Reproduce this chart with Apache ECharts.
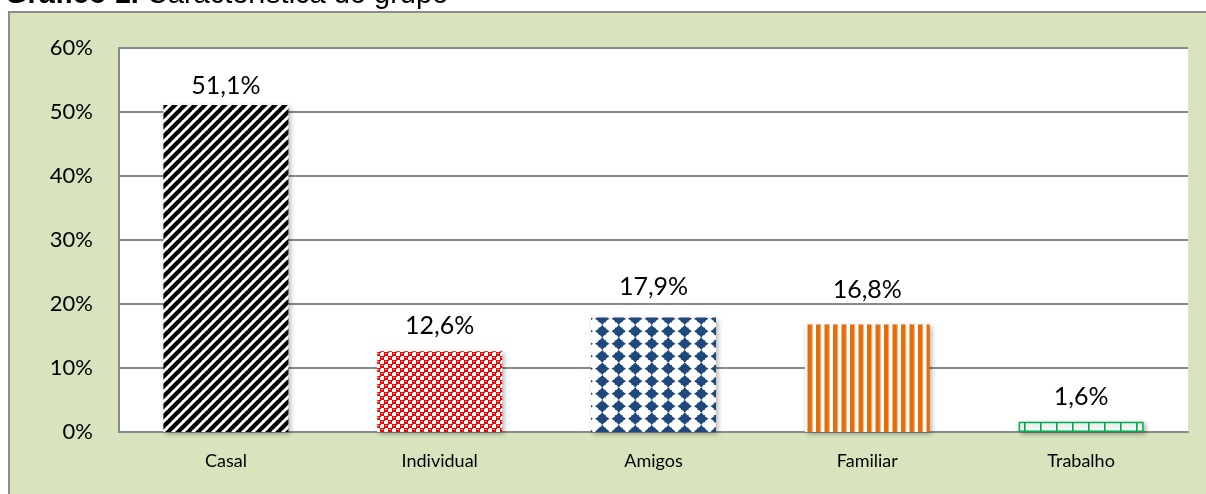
<!DOCTYPE html>
<html>
<head>
<meta charset="utf-8">
<script src="https://cdn.jsdelivr.net/npm/echarts@6/dist/echarts.min.js"></script>
<style>
  html, body { margin:0; padding:0; background:#ffffff; }
  #frame { position:absolute; left:8px; top:11px; width:1220px; height:520px; background:#D7E4BD; border:2px solid #8c8c8c; box-sizing:border-box; z-index:0; }
  #chart { position:absolute; left:0; top:0; width:1206px; height:494px; z-index:1; }
</style>
</head>
<body>
<div id="frame"></div>
<div id="chart"></div>
<script>
const categories = ['Casal', 'Individual', 'Amigos', 'Familiar', 'Trabalho'];
const values = [51.1, 12.6, 17.9, 16.8, 1.6];
const yTicks = { min: 0, max: 60, interval: 10 };
const labelGaps = [7, 13, 18, 22, 12];

function tile(w, h, draw) {
  const c = document.createElement('canvas');
  c.width = w; c.height = h;
  const ctx = c.getContext('2d');
  draw(ctx, w, h);
  return c;
}
// Casal: black diagonal stripes
const pCasal = tile(10, 10, (ctx, w, h) => {
  ctx.fillStyle = '#fff'; ctx.fillRect(0, 0, w, h);
  ctx.strokeStyle = '#000'; ctx.lineWidth = 4.2;
  for (let k = -1; k <= 1; k++) {
    ctx.beginPath(); ctx.moveTo(k * w - 1, h + 1); ctx.lineTo(k * w + w + 1, -1); ctx.stroke();
  }
});
// Individual: red with white checks
const pInd = tile(8, 8, (ctx) => {
  ctx.fillStyle = '#FF0000'; ctx.fillRect(0, 0, 8, 8);
  ctx.fillStyle = '#ffffff';
  ctx.fillRect(4, 0, 4, 4); ctx.fillRect(0, 4, 4, 4);
  ctx.fillStyle = '#FF0000';
  ctx.fillRect(4, 0, 1, 1); ctx.fillRect(0, 4, 1, 1);
  ctx.fillStyle = '#ffb4b4';
  ctx.fillRect(1, 1, 2, 1); ctx.fillRect(5, 5, 2, 1);
});
// Amigos: navy diamonds on white
const pAm = tile(33, 25, (ctx, w, h) => {
  ctx.fillStyle = '#fff'; ctx.fillRect(0, 0, w, h);
  ctx.fillStyle = '#1F497D';
  const dx = 16.5, dy = 12.5;
  for (let i = -1; i <= 2; i++) for (let j = -1; j <= 2; j++) {
    const cx = i * dx + 8.25, cy = j * dy + 6.25;
    const rx = 7.2, ry = 6.4;
    ctx.beginPath();
    ctx.moveTo(cx, cy - ry);
    ctx.quadraticCurveTo(cx + 2.5, cy - 2.5, cx + rx, cy);
    ctx.quadraticCurveTo(cx + 2.5, cy + 2.5, cx, cy + ry);
    ctx.quadraticCurveTo(cx - 2.5, cy + 2.5, cx - rx, cy);
    ctx.quadraticCurveTo(cx - 2.5, cy - 2.5, cx, cy - ry);
    ctx.fill();
    ctx.fillRect(cx - 3.8, cy - 3.6, 7.6, 7.2);
  }
});
// Familiar: orange vertical stripes
const pFam = tile(17, 4, (ctx) => {
  ctx.fillStyle = '#fff'; ctx.fillRect(0, 0, 17, 4);
  ctx.fillStyle = '#E46C0A';
  ctx.fillRect(0, 0, 4.4, 4); ctx.fillRect(8.5, 0, 4.4, 4);
  ctx.fillStyle = '#F0964A';
  ctx.fillRect(4.4, 0, 0.8, 4); ctx.fillRect(12.9, 0, 0.8, 4);
});
// Trabalho: green grid
const pTrab = tile(16, 4, (ctx) => {
  ctx.fillStyle = '#fff'; ctx.fillRect(0, 0, 16, 4);
  ctx.fillStyle = '#00B050';
  ctx.fillRect(0, 0, 1.6, 4);
});
const patterns = [pCasal, pInd, pAm, pFam, pTrab];
const borders = [null, null, null, null, '#00B050'];

const chart = echarts.init(document.getElementById('chart'), null, { renderer: 'canvas' });
const option = {
  backgroundColor: 'transparent',
  animation: false,
  graphic: [{
    type: 'text', left: 5, top: -20, silent: true,
    style: {
      text: '{b|Gráfico 1.}{n| Característica do grupo}',
      rich: {
        b: { fontFamily: 'Liberation Sans', fontWeight: 'bold', fontSize: 29, fill: '#000' },
        n: { fontFamily: 'Liberation Sans', fontSize: 29, fill: '#000' }
      }
    }
  }],
  grid: { left: 119, right: 18, top: 48, bottom: 62, show: true, backgroundColor: '#ffffff', borderWidth: 0 },
  xAxis: {
    type: 'category', data: categories,
    axisTick: { show: false },
    axisLine: { show: true, lineStyle: { color: '#8a8a8a', width: 2 } },
    axisLabel: { margin: 20, fontFamily: 'Lato', fontSize: 18, color: '#000' }
  },
  yAxis: {
    type: 'value', min: yTicks.min, max: yTicks.max, interval: yTicks.interval,
    axisLine: { show: true, lineStyle: { color: '#8a8a8a', width: 2 } },
    axisTick: { show: false },
    splitLine: { lineStyle: { color: '#8a8a8a', width: 2 } },
    axisLabel: { margin: 26, fontFamily: 'Lato', fontSize: 22, color: '#000', formatter: '{value}%' }
  },
  series: [{
    type: 'bar', barWidth: 125,
    data: values.map((v, i) => ({
      value: v,
      label: { distance: labelGaps[i] },
      itemStyle: {
        color: { image: patterns[i], repeat: 'repeat' },
        borderColor: borders[i] || 'transparent',
        borderWidth: borders[i] ? 1.5 : 0,
        shadowBlur: 5, shadowOffsetX: 2, shadowOffsetY: 2, shadowColor: 'rgba(0,0,0,0.3)'
      }
    })),
    label: {
      show: true, position: 'top', distance: 9,
      fontFamily: 'Lato', fontSize: 25, color: '#000',
      formatter: p => String(p.value).replace('.', ',') + '%'
    }
  }]
};
chart.setOption(option);
</script>
</body>
</html>
